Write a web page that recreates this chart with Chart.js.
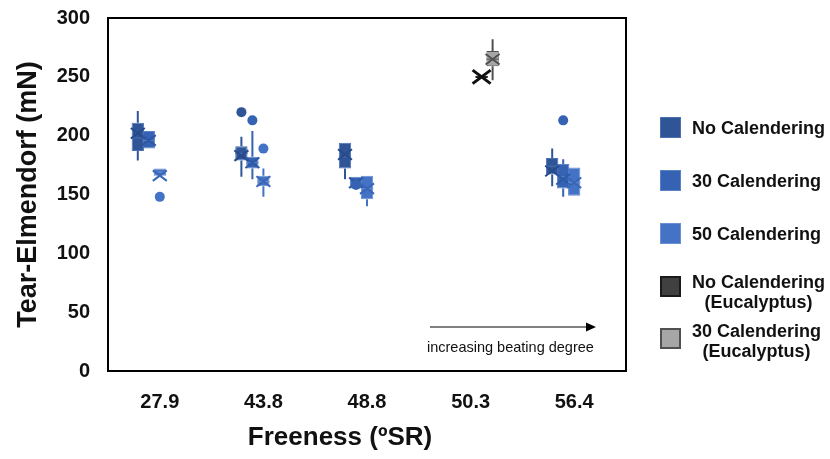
<!DOCTYPE html>
<html><head><meta charset="utf-8">
<script src="https://cdn.jsdelivr.net/npm/chart.js@4.4.1/dist/chart.umd.min.js"></script>
<style>
html,body{margin:0;padding:0;background:#fff;}
#wrap{position:relative;width:830px;height:459px;overflow:hidden;}
#c{position:absolute;left:0;top:0;}
.sq{position:absolute;width:19px;height:19px;box-sizing:content-box;}
.lt{position:absolute;font-family:"Liberation Sans",Arial,sans-serif;font-weight:bold;font-size:18px;color:#111;line-height:20px;text-align:center;white-space:nowrap;}
</style></head><body>
<div id="wrap"><canvas id="c" width="830" height="459"></canvas></div>
<script>
// ---- data ----
const categories = ['27.9', '43.8', '48.8', '50.3', '56.4'];
const seriesNames = ['No Calendering', '30 Calendering', '50 Calendering', 'No Calendering\n(Eucalyptus)', '30 Calendering\n(Eucalyptus)'];
// box stats per category: [min, q1, median, q3, max]
const noCal   = [[179,187,198,211,221], [165,179,185,191,199], [163,172,182,194,194], null, [157,167,174,181,189]];
const cal30   = [[189,189,196,204,204], [163,172,177,182,204], [155,155,160,165,165], null, [148,155,165,176,180]];
const cal50   = [[166,166,169,172,172], [148,157,161,166,172], [140,146,155,166,166], null, [149,149,160,173,173]];
const noCalEu = [null, null, null, [249,249,250,251,251], null];
const cal30Eu = [null, null, null, [247,259,265,272,282], null];
// means per category
const noCalMean   = [202, 183, 184, null, 170];
const cal30Mean   = [196, 177, 160, null, 163];
const cal50Mean   = [166, 161, 155, null, 160];
const noCalEuMean = [null, null, null, 250, null];
const cal30EuMean = [null, null, null, 265, null];
// outliers per category
const noCalOut   = [[], [220], [], [], []];
const cal30Out   = [[], [213], [158], [], [213]];
const cal50Out   = [[148], [189], [], [], []];
const noCalEuOut = [[], [], [], [], []];
const cal30EuOut = [[], [], [], [], []];
const yTicks = [0, 50, 100, 150, 200, 250, 300];

// ---- styles ----
const fills   = ['#2F5597', '#3562B2', '#4472C4', '#404040', '#A6A6A6'];
const borders = ['#4A6FB3', '#5A82C8', '#6A8FD2', '#1A1A1A', '#505050'];
const xCols   = ['#274A8A', '#2D58A6', '#3A66B8', '#111111', '#505050'];
const lineCols= ['#2F5597', '#3562B2', '#4472C4', '#222222', '#505050'];

const allStats = [noCal, cal30, cal50, noCalEu, cal30Eu];
const allMeans = [noCalMean, cal30Mean, cal50Mean, noCalEuMean, cal30EuMean];
const allOut   = [noCalOut, cal30Out, cal50Out, noCalEuOut, cal30EuOut];

const datasets = allStats.map((st, i) => ({
  label: seriesNames[i],
  data: st.map(s => s ? [s[1], s[3]] : null),
  stats: st, means: allMeans[i], outliers: allOut[i],
  backgroundColor: fills[i], borderColor: borders[i], borderWidth: 1, borderSkipped: false,
  xColor: xCols[i], lineColor: lineCols[i],
  xSize: i === 3 ? 9 : 7, xWidth: i === 3 ? 3 : 2,
  categoryPercentage: 0.531, barPercentage: 1.12
}));

const FONT = '"Liberation Sans", Arial, sans-serif';

const extras = {
  id: 'extras',
  afterDatasetsDraw(chart) {
    const ctx = chart.ctx, y = chart.scales.y;
    chart.data.datasets.forEach((ds, i) => {
      const meta = chart.getDatasetMeta(i);
      meta.data.forEach((bar, j) => {
        const s = ds.stats[j];
        const x = bar.x, hw = bar.width / 2;
        ctx.save();
        if (s) {
          ctx.strokeStyle = ds.lineColor; ctx.lineWidth = 2;
          ctx.beginPath();
          ctx.moveTo(x, y.getPixelForValue(s[0])); ctx.lineTo(x, y.getPixelForValue(s[1]));
          ctx.moveTo(x, y.getPixelForValue(s[3])); ctx.lineTo(x, y.getPixelForValue(s[4]));
          ctx.stroke();
          const ym = y.getPixelForValue(s[2]);
          ctx.lineWidth = 1; ctx.strokeStyle = ds.borderColor;
          ctx.beginPath(); ctx.moveTo(x - hw, ym); ctx.lineTo(x + hw, ym); ctx.stroke();
        }
        const mv = ds.means[j];
        if (mv != null) {
          const yy = y.getPixelForValue(mv), r = ds.xSize;
          ctx.lineWidth = ds.xWidth; ctx.strokeStyle = ds.xColor;
          ctx.beginPath();
          ctx.moveTo(x - r, yy - r * 0.75); ctx.lineTo(x + r, yy + r * 0.75);
          ctx.moveTo(x + r, yy - r * 0.75); ctx.lineTo(x - r, yy + r * 0.75);
          ctx.stroke();
        }
        (ds.outliers[j] || []).forEach(v => {
          ctx.fillStyle = ds.backgroundColor;
          ctx.beginPath(); ctx.arc(x, y.getPixelForValue(v), 5, 0, Math.PI * 2); ctx.fill();
        });
        ctx.restore();
      });
    });
  },
  afterDraw(chart) {
    const ctx = chart.ctx, a = chart.chartArea;
    ctx.save();
    ctx.strokeStyle = '#000'; ctx.lineWidth = 2;
    ctx.strokeRect(a.left, a.top, a.right - a.left, a.bottom - a.top);
    // x axis title
    ctx.fillStyle = '#111'; ctx.font = 'bold 26px ' + FONT;
    ctx.textAlign = 'center'; ctx.textBaseline = 'middle';
    ctx.fillText('Freeness (ºSR)', 340, 438);
    // annotation arrow
    ctx.lineWidth = 1; ctx.strokeStyle = '#000';
    ctx.beginPath(); ctx.moveTo(430, 327); ctx.lineTo(588, 327); ctx.stroke();
    ctx.fillStyle = '#000';
    ctx.beginPath(); ctx.moveTo(596, 327); ctx.lineTo(586, 322.5); ctx.lineTo(586, 331.5); ctx.closePath(); ctx.fill();
    ctx.font = '14.5px ' + FONT; ctx.textAlign = 'left'; ctx.fillStyle = '#111';
    ctx.fillText('increasing beating degree', 427, 348);
    ctx.restore();
  }
};

new Chart(document.getElementById('c'), {
  type: 'bar',
  data: { labels: categories, datasets },
  plugins: [extras],
  options: {
    responsive: false, animation: false,
    layout: { padding: { top: 18, right: 204, left: 0, bottom: 0 } },
    plugins: { legend: { display: false }, tooltip: { enabled: false } },
    scales: {
      x: {
        grid: { display: false, drawTicks: false }, border: { display: false },
        ticks: { color: '#111', font: { family: FONT, size: 20, weight: 'bold' }, padding: 19 },
        afterFit: s => { s.height = 88; }
      },
      y: {
        min: 0, max: 300,
        grid: { display: false, drawTicks: false }, border: { display: false },
        afterBuildTicks: s => { s.ticks = yTicks.map(v => ({ value: v })); },
        ticks: { color: '#111', font: { family: FONT, size: 20, weight: 'bold' }, padding: 18 },
        title: { display: true, text: 'Tear-Elmendorf (mN)', color: '#111', font: { family: FONT, size: 27, weight: 'bold' }, padding: { top: 12, bottom: 0 } },
        afterFit: s => { s.width = 108; s.paddingTop = 0; s.paddingBottom = 0; }
      }
    }
  }
});

// ---- legend (HTML) ----
const wrap = document.getElementById('wrap');
const legSqTop = [117, 170, 223, 276, 328];
const legTextTop = [118, 171, 224, 272, 321];
seriesNames.forEach((name, i) => {
  const sq = document.createElement('div');
  sq.className = 'sq';
  sq.style.left = '660px'; sq.style.top = legSqTop[i] + 'px';
  sq.style.background = fills[i];
  sq.style.border = (i >= 3 ? 2 : 1) + 'px solid ' + borders[i];
  if (i >= 3) { sq.style.width = '17px'; sq.style.height = '17px'; }
  wrap.appendChild(sq);
  const t = document.createElement('div');
  t.className = 'lt';
  t.style.left = '692px'; t.style.top = legTextTop[i] + 'px';
  name.split('\n').forEach((ln, k) => {
    if (k) t.appendChild(document.createElement('br'));
    t.appendChild(document.createTextNode(ln));
  });
  wrap.appendChild(t);
});
</script>
</body></html>
